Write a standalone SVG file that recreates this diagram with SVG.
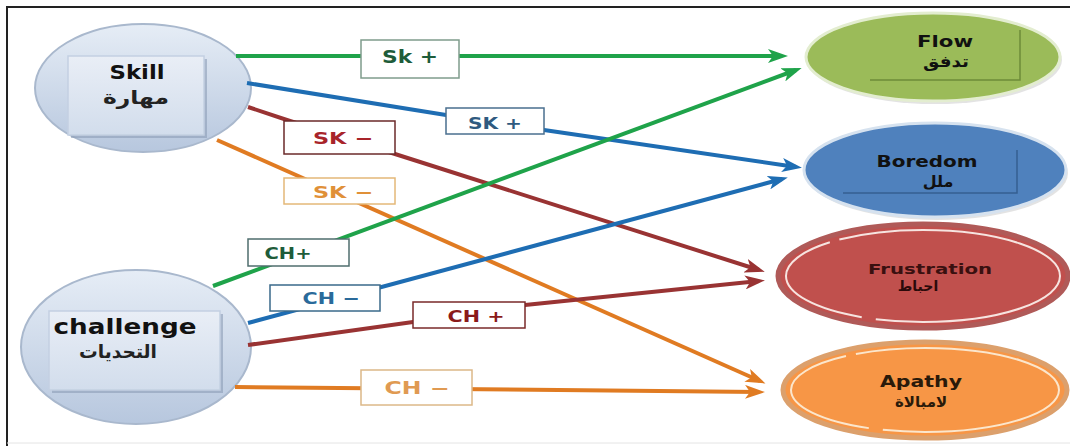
<svg xmlns="http://www.w3.org/2000/svg" width="1070" height="446" viewBox="0 0 1070 446">
<defs>
<linearGradient id="gCirc" x1="0" y1="0" x2="0" y2="1">
<stop offset="0" stop-color="#e6edf6"/><stop offset="1" stop-color="#b7c7de"/>
</linearGradient>
<linearGradient id="gBox" x1="0" y1="0" x2="0" y2="1">
<stop offset="0" stop-color="#e9eef6"/><stop offset="1" stop-color="#d2ddec"/>
</linearGradient>
<marker id="aG" markerUnits="userSpaceOnUse" markerWidth="22" markerHeight="14" refX="14" refY="7" orient="auto"><path d="M0,0 L20,7 L0,14 L5,7 z" fill="#1fa34a"/></marker>
<marker id="aB" markerUnits="userSpaceOnUse" markerWidth="22" markerHeight="14" refX="14" refY="7" orient="auto"><path d="M0,0 L20,7 L0,14 L5,7 z" fill="#1e6db3"/></marker>
<marker id="aR" markerUnits="userSpaceOnUse" markerWidth="22" markerHeight="14" refX="14" refY="7" orient="auto"><path d="M0,0 L20,7 L0,14 L5,7 z" fill="#993333"/></marker>
<marker id="aO" markerUnits="userSpaceOnUse" markerWidth="22" markerHeight="14" refX="14" refY="7" orient="auto"><path d="M0,0 L20,7 L0,14 L5,7 z" fill="#e07b22"/></marker>
</defs>
<style>
.t{font-family:"DejaVu Sans","Liberation Sans",sans-serif;font-weight:bold;text-anchor:middle}
.ar{font-family:"DejaVu Sans","Noto Sans",sans-serif;font-weight:bold;text-anchor:middle}
.ln{fill:none;stroke-width:4;stroke-linejoin:round}
.g{stroke:#1fa34a}.b{stroke:#1e6db3}.r{stroke:#993333}.o{stroke:#e07b22}
.lb{fill:#ffffff;stroke-width:1.5}
</style>
<rect width="1070" height="446" fill="#ffffff"/>
<path d="M7,446 L7,7 L1070,7" fill="none" stroke="#222" stroke-width="2"/>
<line x1="7" y1="443" x2="1070" y2="443" stroke="#e4e4e4" stroke-width="1"/>

<g id="skill">
<ellipse cx="143" cy="88" rx="108" ry="64" fill="url(#gCirc)" stroke="#a9b8cd" stroke-width="2"/>
<rect x="71" y="59" width="136" height="79" fill="#8c9cb6" opacity="0.6"/>
<rect x="68" y="56" width="136" height="79" fill="url(#gBox)" stroke="#c3d0e2" stroke-width="1.5"/>
<text class="t" x="137" y="79" font-size="19" fill="#111" textLength="55" lengthAdjust="spacingAndGlyphs">Skill</text>
<text class="ar" x="136" y="104" font-size="19" fill="#222" textLength="66" lengthAdjust="spacingAndGlyphs">مهارة</text>
</g>

<g id="challenge">
<ellipse cx="136" cy="347" rx="115" ry="77" fill="url(#gCirc)" stroke="#a9b8cd" stroke-width="2"/>
<rect x="52" y="314" width="171" height="79" fill="#8c9cb6" opacity="0.6"/>
<rect x="49" y="311" width="171" height="79" fill="url(#gBox)" stroke="#c3d0e2" stroke-width="1.5"/>
<text class="t" x="125" y="334" font-size="22" fill="#111" textLength="143" lengthAdjust="spacingAndGlyphs">challenge</text>
<text class="ar" x="118" y="358" font-size="18" fill="#222" textLength="78" lengthAdjust="spacingAndGlyphs">التحديات</text>
</g>

<g id="flow">
<ellipse cx="935" cy="60" rx="127" ry="44" fill="#c8c8c8" opacity="0.5"/>
<ellipse cx="933" cy="57" rx="127" ry="44" fill="#9bbb59" stroke="#e3edd0" stroke-width="3"/>
<path d="M1020,30 L1020,80 L870,80" fill="none" stroke="#6e8c38" stroke-width="1.5"/>
<text class="t" x="945" y="47" font-size="16" fill="#111" textLength="56" lengthAdjust="spacingAndGlyphs">Flow</text>
<text class="ar" x="946" y="67" font-size="16" fill="#111" textLength="46" lengthAdjust="spacingAndGlyphs">تدفق</text>
</g>

<g id="boredom">
<ellipse cx="937" cy="173" rx="131" ry="47" fill="#c8c8c8" opacity="0.5"/>
<ellipse cx="935" cy="170" rx="131" ry="47" fill="#4f81bd" stroke="#d6e2ef" stroke-width="3"/>
<path d="M1017,150 L1017,193 L843,193" fill="none" stroke="#365f91" stroke-width="1.5"/>
<text class="t" x="927" y="167" font-size="16" fill="#111" textLength="101" lengthAdjust="spacingAndGlyphs">Boredom</text>
<text class="ar" x="938" y="187" font-size="16" fill="#111">ملل</text>
</g>

<g id="frustration">
<ellipse cx="923" cy="276" rx="145" ry="52" fill="#c0504d" stroke="#b05a58" stroke-width="5"/>
<ellipse cx="923" cy="276" rx="137" ry="46" fill="none" stroke="#f6e4e0" stroke-width="2" stroke-dasharray="200 14 150 10 240 12"/>
<text class="t" x="930" y="274" font-size="14" fill="#3a1010" textLength="124" lengthAdjust="spacingAndGlyphs">Frustration</text>
<text class="ar" x="918" y="291" font-size="14" fill="#2a0a0a">احباط</text>
</g>

<g id="apathy">
<ellipse cx="925" cy="390" rx="142" ry="48" fill="#f79646" stroke="#dca06c" stroke-width="5"/>
<ellipse cx="925" cy="390" rx="134" ry="42" fill="none" stroke="#fbe6cc" stroke-width="2" stroke-dasharray="190 14 160 10 230 12"/>
<text class="t" x="921" y="387" font-size="15" fill="#2a1a0a" textLength="82" lengthAdjust="spacingAndGlyphs">Apathy</text>
<text class="ar" x="921" y="407" font-size="15" fill="#2a1a0a">لامبالاة</text>
</g>

<g id="connectors">
<line class="ln g" x1="236" y1="56" x2="782" y2="56" marker-end="url(#aG)"/>
<polyline class="ln b" points="247,83 446,115 544,130 796,167" marker-end="url(#aB)"/>
<polyline class="ln r" points="248,107 290,121 395,154 759,270" marker-end="url(#aR)"/>
<line class="ln o" x1="217" y1="140" x2="760" y2="381" marker-end="url(#aO)"/>
<line class="ln g" x1="213" y1="286" x2="796" y2="70" marker-end="url(#aG)"/>
<line class="ln b" x1="248" y1="323" x2="782" y2="179" marker-end="url(#aB)"/>
<polyline class="ln r" points="248,345 413,322 525,305 759,281" marker-end="url(#aR)"/>
<line class="ln o" x1="235" y1="387" x2="759" y2="392" marker-end="url(#aO)"/>

<rect class="lb" x="361" y="40" width="98" height="38" stroke="#7f9c8c"/>
<text class="t" x="410" y="63" font-size="18" fill="#1e5c3a" textLength="56" lengthAdjust="spacingAndGlyphs">Sk +</text>
<rect class="lb" x="446" y="108" width="98" height="26" stroke="#4a6f8f"/>
<text class="t" x="495" y="129" font-size="16" fill="#2f5a80" textLength="54" lengthAdjust="spacingAndGlyphs">SK +</text>
<rect class="lb" x="284" y="121" width="111" height="33" stroke="#6b2a2a"/>
<text class="t" x="343" y="144" font-size="16" fill="#a8242a" textLength="60" lengthAdjust="spacingAndGlyphs">SK −</text>
<rect class="lb" x="284" y="178" width="111" height="26" stroke="#e4b878"/>
<text class="t" x="343" y="198" font-size="16" fill="#e09038" textLength="60" lengthAdjust="spacingAndGlyphs">SK −</text>
<rect class="lb" x="248" y="239" width="101" height="27" stroke="#4f6e6e"/>
<text class="t" x="288" y="259" font-size="16" fill="#1e5c3a" textLength="47" lengthAdjust="spacingAndGlyphs">CH+</text>
<rect class="lb" x="270" y="285" width="110" height="26" stroke="#3a6a8a"/>
<text class="t" x="331" y="304" font-size="16" fill="#2a6a9a" textLength="57" lengthAdjust="spacingAndGlyphs">CH −</text>
<rect class="lb" x="413" y="302" width="112" height="26" stroke="#7a2a2a"/>
<text class="t" x="476" y="322" font-size="16" fill="#8b1a1a" textLength="57" lengthAdjust="spacingAndGlyphs">CH +</text>
<rect class="lb" x="361" y="370" width="111" height="35" stroke="#dcb888"/>
<text class="t" x="417" y="394" font-size="17" fill="#e09a52" textLength="65" lengthAdjust="spacingAndGlyphs">CH −</text>
</g>
</svg>
